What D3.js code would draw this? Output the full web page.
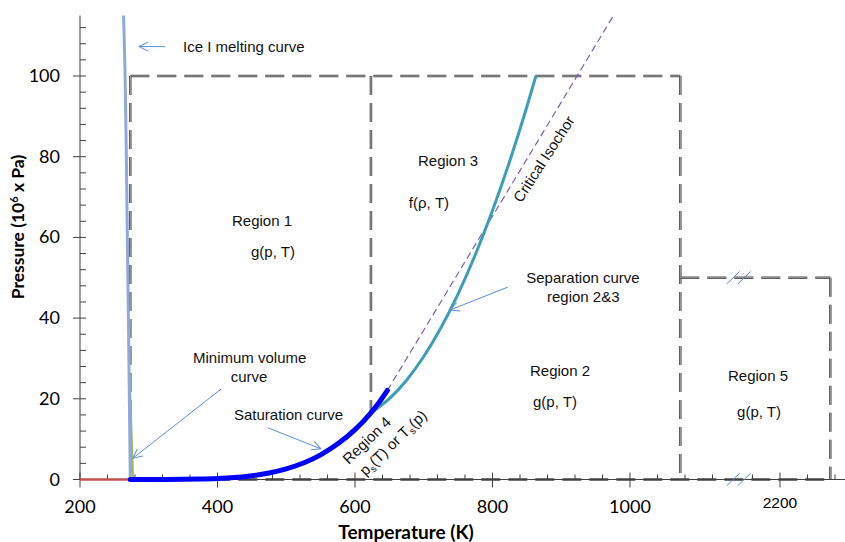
<!DOCTYPE html>
<html><head><meta charset="utf-8">
<script src="https://cdn.jsdelivr.net/npm/d3@7"></script>
<style>body{margin:0;background:#fff} svg{display:block}</style>
</head><body>
<svg id="chart" width="845" height="542"></svg>
<script>
// ---------- data ----------
const xMajorTicks = [200, 400, 600, 800, 1000, 2200];
const xMinorTicks = d3.range(240, 1121, 40).concat(d3.range(2160, 2281, 40)).filter(v => !xMajorTicks.includes(v));
const yMajorTicks = [0, 20, 40, 60, 80, 100];
const yMinorTicks = d3.range(4, 113, 4).filter(v => v % 20 !== 0);

// Ice I melting curve (T in K, p in MPa)
const iceT = [273.16, 271.8, 270.4, 268.9, 267.4, 265.6, 263.4];
const iceP = [0, 20, 40, 60, 80, 100, 115];
// below-freezing line on the axis
const redT = [200, 273.16];
const redP = [0, 0];
// Minimum volume curve
const minVolT = [277.1, 275.6, 274.0, 272.0];
const minVolP = [0, 8, 16, 26];
// Saturation curve
const satT = [273.16, 300, 325, 350, 373.12, 400, 425, 450, 475, 500, 525, 550, 575, 600, 623.15, 635, 647.1];
const satP = [0.000612, 0.00354, 0.0133, 0.0417, 0.1013, 0.2458, 0.5003, 0.9322, 1.6184, 2.6392, 4.088, 6.1178, 8.8446, 12.345, 16.529, 19.07, 22.064];
// Separation curve region 2 & 3
const sepT = [623.15, 650, 675, 700, 725, 750, 775, 800, 825, 850, 863.15];
const sepP = [16.529, 20.034, 24.615, 30.478, 37.61, 46.018, 55.698, 66.653, 78.883, 92.386, 100.0];
// Critical isochor
const isoT = [647.1, 976];
const isoP = [22.064, 115];
// Region boundaries [T1, p1, T2, p2]
const boundaries = [
  [273.15, 100, 1073.15, 100],
  [273.15, 0, 273.15, 100],
  [623.15, 16.529, 623.15, 100],
  [1073.15, 0, 1073.15, 100],
  [1073.15, 50, 2273.15, 50],
  [2273.15, 0, 2273.15, 50],
  [273.15, 0, 2273.15, 0]
];
// axis break (T values just around the gap)
const breakT = [1155, 2140];

// ---------- scales ----------
const x = d3.scaleLinear().domain([200, breakT[0], breakT[1], 2300]).range([80, 736.56, 738.75, 848.75]);
const y = d3.scaleLinear().domain([0, 115]).range([479.5, 15.5]);

const svg = d3.select("#chart");
const tickFont = "Lato, 'Open Sans', sans-serif";
const annFont = "'Liberation Sans', Arial, sans-serif";

// ---------- region boxes ----------
const gBox = svg.append("g");
boundaries.forEach(b => {
  [["#454545", 2.5], ["#b4b4b4", 0.9]].forEach(([c, w]) => {
    gBox.append("line")
      .attr("x1", x(b[0])).attr("y1", y(b[3]))
      .attr("x2", x(b[2])).attr("y2", y(b[1]))
      .attr("stroke", c).attr("stroke-width", w)
      .attr("stroke-dasharray", "19,8");
  });
});

// ---------- axes ----------
const axisColor = "#404040";
const gAx = svg.append("g");
gAx.append("line").attr("x1", x(200)).attr("x2", 845).attr("y1", y(0)).attr("y2", y(0))
  .attr("stroke", axisColor).attr("stroke-width", 1);
gAx.append("line").attr("x1", x(200)).attr("x2", x(200)).attr("y1", y(0)).attr("y2", y(115))
  .attr("stroke", axisColor).attr("stroke-width", 1);

xMajorTicks.forEach(v => {
  gAx.append("line").attr("x1", x(v)).attr("x2", x(v)).attr("y1", y(0) - 7).attr("y2", y(0) + 8)
    .attr("stroke", axisColor);
});
xMinorTicks.forEach(v => {
  gAx.append("line").attr("x1", x(v)).attr("x2", x(v)).attr("y1", y(0) - 5).attr("y2", y(0))
    .attr("stroke", axisColor);
});
yMajorTicks.forEach(v => {
  gAx.append("line").attr("x1", x(200) - 7).attr("x2", x(200) + 6).attr("y1", y(v)).attr("y2", y(v))
    .attr("stroke", axisColor);
});
yMinorTicks.forEach(v => {
  gAx.append("line").attr("x1", x(200)).attr("x2", x(200) + 6).attr("y1", y(v)).attr("y2", y(v))
    .attr("stroke", axisColor);
});

xMajorTicks.forEach(v => {
  const special = v === 2200;
  gAx.append("text").attr("x", x(v)).attr("y", special ? 508 : 513)
    .attr("text-anchor", "middle")
    .attr("font-family", special ? annFont : tickFont)
    .attr("font-size", special ? 15.5 : 18)
    .attr("fill", "#000").text(v);
});
yMajorTicks.forEach(v => {
  gAx.append("text").attr("x", 60).attr("y", y(v) + 6)
    .attr("text-anchor", "end").attr("font-family", tickFont).attr("font-size", 18)
    .attr("fill", "#000").text(v);
});

// axis titles
svg.append("text").attr("x", 406).attr("y", 539).attr("text-anchor", "middle")
  .attr("font-family", tickFont).attr("font-weight", "bold").attr("font-size", 19)
  .attr("fill", "#000").text("Temperature (K)");
const yt = svg.append("text").attr("transform", "translate(24,227) rotate(-90)")
  .attr("text-anchor", "middle").attr("font-family", tickFont).attr("font-weight", "bold")
  .attr("font-size", 17.5).attr("fill", "#000");
yt.append("tspan").text("Pressure (10");
yt.append("tspan").attr("font-size", 11).attr("dy", -6).text("6");
yt.append("tspan").attr("dy", 6).text(" x Pa)");

// ---------- curves ----------
function drawCurve(T, P, color, width, opts = {}) {
  const pts = T.map((t, i) => [x(t), y(P[i])]);
  const line = d3.line().curve(opts.curve || d3.curveLinear);
  const p = svg.append("path").attr("d", line(pts)).attr("fill", "none")
    .attr("stroke", color).attr("stroke-width", width)
    .attr("stroke-linecap", opts.cap || "butt").attr("stroke-linejoin", "round");
  if (opts.dash) p.attr("stroke-dasharray", opts.dash);
  return p;
}
drawCurve(redT, redP, "#C0504D", 2.5);
drawCurve(minVolT, minVolP, "#9BBB59", 2.2, { curve: d3.curveCatmullRom });
drawCurve(iceT, iceP, "#8EA9DB", 3, { curve: d3.curveCatmullRom });
drawCurve(isoT, isoP, "#7B5FA8", 1.2, { dash: "7,4" });
drawCurve(sepT, sepP, "#3C9EB4", 3, { curve: d3.curveMonotoneX });
drawCurve(satT, satP, "#0000FF", 5, { curve: d3.curveMonotoneX, cap: "round" });

// ---------- axis break marks ----------
const bx = (x(breakT[0]) + x(breakT[1])) / 2 + 1;
const arrowBlue = "#5B8FD4";
[50, 0].forEach(pv => {
  const by = y(pv);
  [-5.5, 5.5].forEach(o => {
    svg.append("line").attr("x1", bx + o - 6.5).attr("y1", by + 6.3)
      .attr("x2", bx + o + 6.5).attr("y2", by - 6.3)
      .attr("stroke", arrowBlue).attr("stroke-width", 1);
  });
});

// ---------- annotations ----------
const defs = svg.append("defs");
defs.append("marker").attr("id", "arr").attr("viewBox", "-10 -6 12 12")
  .attr("refX", 0).attr("refY", 0).attr("markerWidth", 12).attr("markerHeight", 12)
  .attr("markerUnits", "userSpaceOnUse").attr("orient", "auto")
  .append("path").attr("d", "M-9,-4.5 L0,0 L-9,4.5").attr("fill", "none")
  .attr("stroke", arrowBlue).attr("stroke-width", 1);

const arrows = [
  [323.6, 107.3, 285.8, 107.3],
  [405.1, 22.4, 277.1, 5.3],
  [473.5, 12.8, 550.5, 7.6],
  [822.5, 47.7, 738.2, 42.0]
];
arrows.forEach(a => {
  svg.append("line").attr("x1", x(a[0])).attr("y1", y(a[1])).attr("x2", x(a[2])).attr("y2", y(a[3]))
    .attr("stroke", arrowBlue).attr("stroke-width", 1).attr("marker-end", "url(#arr)");
});

// text labels: [text, T, p, anchor]
const labels = [
  ["Ice I melting curve", 349.8, 105.9, "start"],
  ["Minimum volume", 446.8, 28.9, "middle"],
  ["curve", 445.8, 24.2, "middle"],
  ["Saturation curve", 424, 14.7, "start"],
  ["Separation curve", 931.6, 48.7, "middle"],
  ["region 2&3", 932, 44.1, "middle"],
  ["Region 1", 464.7, 62.8, "middle"],
  ["g(p, T)", 480.7, 55.1, "middle"],
  ["Region 3", 735.3, 77.8, "middle"],
  ["f(ρ, T)", 707.6, 67.3, "middle"],
  ["Region 2", 898.2, 25.65, "middle"],
  ["g(p, T)", 890.9, 18.0, "middle"],
  ["Region 5", 2168, 24.5, "middle"],
  ["g(p, T)", 2169.5, 15.6, "middle"]
];
labels.forEach(l => {
  svg.append("text").attr("x", x(l[1])).attr("y", y(l[2])).attr("text-anchor", l[3])
    .attr("font-family", annFont).attr("font-size", 15).attr("fill", "#111").text(l[0]);
});

// Critical isochor label
svg.append("text")
  .attr("transform", `translate(${x(875)},${y(79.4)}) rotate(-57)`)
  .attr("text-anchor", "middle").attr("dy", 5)
  .attr("font-family", annFont).attr("font-size", 15).attr("fill", "#111").text("Critical Isochor");

// Region 4 label
const r4 = svg.append("g").attr("transform", `translate(${x(591)},${y(3.6)}) rotate(-44)`)
  .attr("font-family", annFont).attr("font-size", 15).attr("fill", "#111");
r4.append("text").attr("x", 0).attr("y", 0).text("Region 4");
const r4b = r4.append("text").attr("x", 4).attr("y", 20);
r4b.append("tspan").text("p");
r4b.append("tspan").attr("font-size", 10).attr("dy", 3).text("s");
r4b.append("tspan").attr("dy", -3).text("(T) or T");
r4b.append("tspan").attr("font-size", 10).attr("dy", 3).text("s");
r4b.append("tspan").attr("dy", -3).text("(p)");
</script>
</body></html>
